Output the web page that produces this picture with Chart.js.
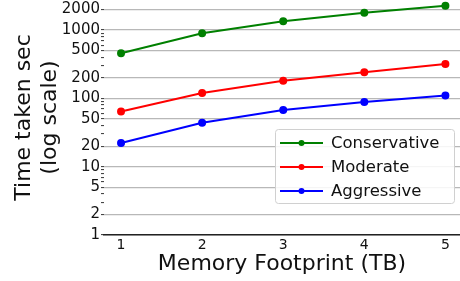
<!DOCTYPE html>
<html>
<head>
<meta charset="utf-8">
<script src="https://cdn.jsdelivr.net/npm/chart.js@4"></script>
<style>
  html, body { margin: 0; padding: 0; background: #fff; }
  #wrap { width: 460px; height: 281px; }
</style>
</head>
<body>
<div id="wrap"><canvas id="timeChart"></canvas></div>
<script>
const footprintTB = [1, 2, 3, 4, 5];
const conservative = [456, 895, 1340, 1790, 2270];
const moderate = [64, 120, 181, 240, 319];
const aggressive = [22.2, 44, 67.7, 88.6, 110];
const yMajorTicks = [1, 2, 5, 10, 20, 50, 100, 200, 500, 1000, 2000];
const Y_MAX = 2750;

const font = "DejaVu Sans";
const toPoints = (vals) => vals.map((v, i) => ({ x: footprintTB[i], y: v }));

// minor log ticks (2..9 per decade) as small marks only
const allYTicks = [];
for (let d = 1; d <= 1000; d *= 10) {
  for (let m = 1; m <= 9; m++) {
    if (m * d <= Y_MAX) allYTicks.push(m * d);
  }
}
const isMajor = (v) => yMajorTicks.includes(v);

const boxLegend = {
  id: "boxLegend",
  afterDraw(chart) {
    const { ctx, chartArea } = chart;
    const w = 179, h = 74, rowH = 24;
    const x0 = chartArea.right - 6 - w;
    const y0 = chartArea.bottom - 32 - h;
    ctx.save();
    ctx.fillStyle = "rgba(255,255,255,0.85)";
    ctx.strokeStyle = "#d0d0d0";
    ctx.lineWidth = 1;
    ctx.beginPath();
    ctx.roundRect(x0 + 0.5, y0 + 0.5, w, h, 3);
    ctx.fill();
    ctx.stroke();
    ctx.font = "16.5px " + font;
    ctx.textBaseline = "middle";
    chart.data.datasets.forEach((ds, i) => {
      const cy = y0 + 14 + i * rowH;
      ctx.strokeStyle = ds.borderColor;
      ctx.lineWidth = 2;
      ctx.beginPath();
      ctx.moveTo(x0 + 5, cy);
      ctx.lineTo(x0 + 48, cy);
      ctx.stroke();
      ctx.fillStyle = ds.borderColor;
      ctx.beginPath();
      ctx.arc(x0 + 26.5, cy, 3, 0, Math.PI * 2);
      ctx.fill();
      ctx.fillStyle = "#111";
      ctx.fillText(ds.label, x0 + 56, cy + 1);
    });
    ctx.restore();
  },
};

const makeSet = (label, color, vals) => ({
  label,
  data: toPoints(vals),
  borderColor: color,
  backgroundColor: color,
  borderWidth: 2,
  pointRadius: 3,
  pointHoverRadius: 3,
  tension: 0,
  clip: false,
});

new Chart(document.getElementById("timeChart"), {
  type: "line",
  data: {
    datasets: [
      makeSet("Conservative", "#008000", conservative),
      makeSet("Moderate", "#ff0000", moderate),
      makeSet("Aggressive", "#0000ff", aggressive),
    ],
  },
  options: {
    responsive: true,
    maintainAspectRatio: false,
    animation: false,
    events: [],
    layout: { padding: 0, autoPadding: false },
    plugins: {
      legend: { display: false },
      tooltip: { enabled: false },
    },
    scales: {
      x: {
        type: "linear",
        min: 0.79,
        max: 5.18,
        afterBuildTicks: (scale) => {
          scale.ticks = footprintTB.map((v) => ({ value: v }));
        },
        afterFit: (scale) => {
          scale.height = 46;
          scale.paddingLeft = 0;
          scale.paddingRight = 0;
        },
        grid: { drawOnChartArea: false, drawTicks: false },
        border: { display: true, color: "#222", width: 1.5 },
        ticks: {
          padding: 2,
          color: "#111",
          font: { family: font, size: 14 },
          maxRotation: 0,
        },
        title: {
          display: true,
          text: "Memory Footprint (TB)",
          color: "#111",
          font: { family: font, size: 22 },
          padding: { top: 0, bottom: 4 },
        },
      },
      y: {
        type: "logarithmic",
        min: 1,
        max: Y_MAX,
        afterBuildTicks: (scale) => {
          scale.ticks = allYTicks.map((v) => ({ value: v, major: isMajor(v) }));
        },
        afterFit: (scale) => {
          scale.width = 104;
          scale.paddingTop = 0;
          scale.paddingBottom = 0;
        },
        border: { display: false },
        grid: {
          color: (c) => (c.tick && isMajor(c.tick.value) ? "#b8b8b8" : "rgba(0,0,0,0)"),
          lineWidth: 1.2,
          tickLength: 3,
          tickColor: "#333",
          tickWidth: 1,
        },
        ticks: {
          autoSkip: false,
          padding: 1,
          color: "#111",
          font: { family: font, size: 15 },
          callback: (v) => (isMajor(v) ? String(v) : ""),
        },
        title: {
          display: true,
          text: ["Time taken sec", "(log scale)"],
          color: "#111",
          font: { family: font, size: 22, lineHeight: 1.15 },
          padding: { top: 12, bottom: 0 },
        },
      },
    },
  },
  plugins: [boxLegend],
});
</script>
</body>
</html>
